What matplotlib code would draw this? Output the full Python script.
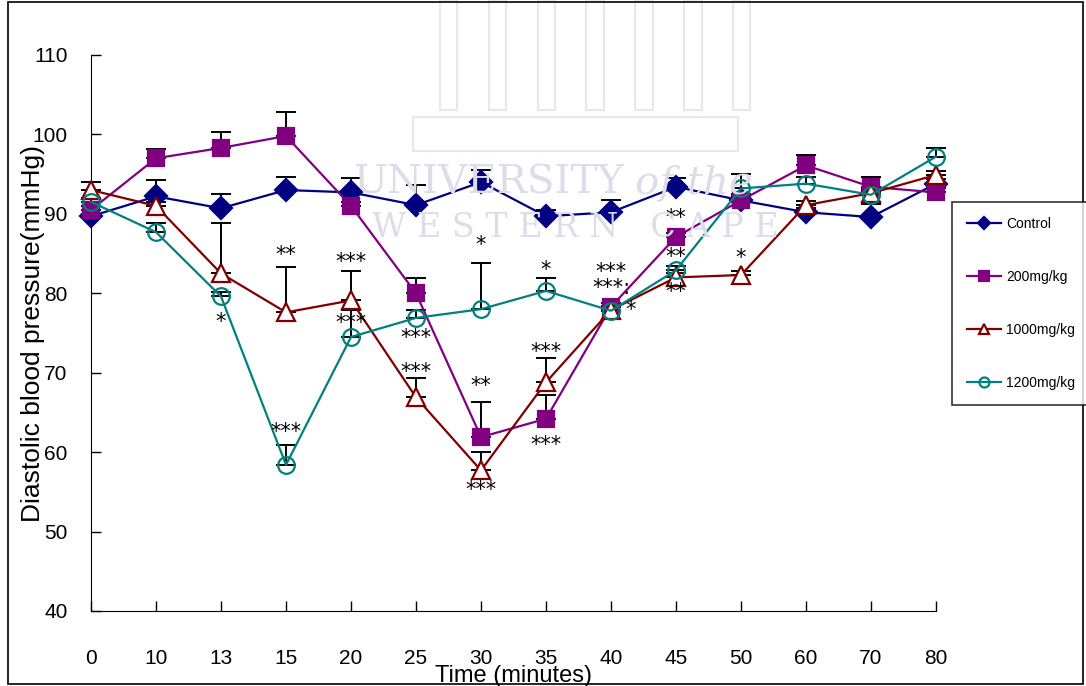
import numpy as np
import matplotlib
matplotlib.use("Agg")
import matplotlib.pyplot as plt
from matplotlib.patches import Rectangle

plt.rcParams["font.family"] = ["Liberation Sans", "DejaVu Sans"]

# data
times = ["0", "10", "13", "15", "20", "25", "30", "35", "40", "45", "50", "60", "70", "80"]

control = [89.7, 92.2, 90.7, 93.0, 92.7, 91.1, 94.0, 89.7, 90.2, 93.4, 91.7, 90.2, 89.6, 93.8]
control_err = [0.8, 2.0, 1.8, 1.6, 1.8, 2.5, 1.5, 0.8, 1.5, 1.1, 0.8, 0.6, 1.6, 0.6]

d200 = [90.5, 97.0, 98.3, 99.8, 91.0, 80.0, 61.9, 64.2, 78.3, 87.1, 91.7, 96.1, 93.4, 92.7]
d200_err = [0.5, 1.2, 2.0, 3.0, 0.5, 1.9, 4.4, 3.0, 0.5, 0.5, 0.5, 1.3, 1.2, 0.5]

d1000 = [93.0, 91.0, 82.5, 77.6, 79.1, 66.9, 57.7, 68.8, 77.9, 82.0, 82.3, 91.1, 92.6, 94.9]
d1000_err = [1.0, 0.5, 6.3, 5.7, 3.7, 2.4, 2.3, 3.0, 0.5, 0.5, 0.5, 0.5, 0.5, 0.5]

d1200 = [91.5, 87.7, 79.6, 58.4, 74.5, 76.9, 78.0, 80.3, 77.8, 82.9, 93.2, 93.8, 92.4, 97.2]
d1200_err = [0.5, 1.1, 0.5, 2.5, 3.4, 1.0, 5.8, 1.6, 0.5, 0.5, 1.8, 0.8, 0.5, 1.1]

# significance marks: (time index, y value, text)
sig_x = [2, 3, 3, 4, 4, 5, 5, 6, 6, 6, 7, 7, 7, 8, 8, 8.3, 9, 9, 9, 10]
sig_y = [76.4, 84.8, 62.5, 83.9, 76.2, 74.4, 70.1, 86.1, 68.3, 55.2, 82.9, 72.6, 60.9,
         82.7, 80.7, 77.9, 89.5, 84.6, 80.2, 84.4]
sig_txt = ["*", "**", "***", "***", "***", "***", "***", "*", "**", "***", "*", "***", "***",
           "***", "***:", "*", "**", "**", "**", "*"]

series = [
    ("Control", control, control_err, "#000080", "D", "#000080", 11),
    ("200mg/kg", d200, d200_err, "#800080", "s", "#800080", 12),
    ("1000mg/kg", d1000, d1000_err, "#800000", "^", "white", 13),
    ("1200mg/kg", d1200, d1200_err, "#008080", "o", "none", 12),
]

fig = plt.figure(figsize=(10.86, 6.86), dpi=100)
ax = fig.add_axes([91 / 1086, 1 - 611 / 686, (936 - 91) / 1086, (611 - 55) / 686])

# faint watermark
wm = "#dcdde8"
fig.text(0.575, 0.733, "UNIVERSITY", color=wm, fontsize=29, family="DejaVu Serif",
         ha="right", va="center", zorder=0)
fig.text(0.585, 0.733, "of the", color=wm, fontsize=29, family="DejaVu Serif",
         style="italic", ha="left", va="center", zorder=0)
fig.text(0.53, 0.667, "W E S T E R N   C A P E", color=wm, fontsize=24, family="DejaVu Serif",
         ha="center", va="center", zorder=0)
wm2 = "#e6e7ef"
for k in range(7):
    fig.patches.append(Rectangle((0.405 + k * 0.045, 0.84), 0.016, 0.16, transform=fig.transFigure,
                                 facecolor="none", edgecolor=wm2, lw=1.5, zorder=0))
fig.patches.append(Rectangle((0.38, 0.78), 0.30, 0.05, transform=fig.transFigure,
                             facecolor="none", edgecolor=wm2, lw=1.5, zorder=0))

x = np.arange(len(times))
for name, vals, err, col, mk, fc, ms in series:
    ax.errorbar(x, vals, yerr=[np.zeros(len(err)), err], fmt="none", ecolor="black",
                elinewidth=1.4, capsize=7, capthick=1.4, zorder=2, clip_on=False)
    ax.plot(x, vals, color=col, lw=1.6, marker=mk, markersize=ms, markerfacecolor=fc,
            markeredgecolor=col, markeredgewidth=1.6, label=name, zorder=3, clip_on=False)

for sx, sy, st in zip(sig_x, sig_y, sig_txt):
    ax.text(sx, sy, st, ha="center", va="center", fontsize=15, color="black", zorder=4,
            family="DejaVu Sans")

ax.set_xlim(0, len(times) - 1)
ax.set_ylim(40, 110)
ax.set_xticks(x)
ax.set_xticklabels(times)
ax.set_yticks(np.arange(40, 111, 10))
ax.spines["top"].set_visible(False)
ax.spines["right"].set_visible(False)
ax.tick_params(axis="both", direction="in", length=7, width=1, labelsize=15)
ax.tick_params(axis="x", pad=27)
ax.tick_params(axis="y", pad=17)
ax.set_xlabel("Time (minutes)", fontsize=17, labelpad=-2)
ax.set_ylabel("Diastolic blood pressure(mmHg)", fontsize=19)
ax.yaxis.set_label_coords(-0.055, 0.5)

leg = fig.legend(loc="upper left", bbox_to_anchor=(952 / 1086, 1 - 202 / 686), frameon=True,
                 fontsize=10, labelspacing=2.8, handlelength=2.4, handletextpad=0.4,
                 borderpad=1.1, borderaxespad=0, fancybox=False, edgecolor="black",
                 markerscale=0.6)
leg.get_frame().set_linewidth(1.2)

fig.patches.append(Rectangle((0.007, 0.003), 0.990, 0.994, transform=fig.transFigure,
                             facecolor="none", edgecolor="black", lw=1.2))

fig.savefig("out.png", dpi=100)
